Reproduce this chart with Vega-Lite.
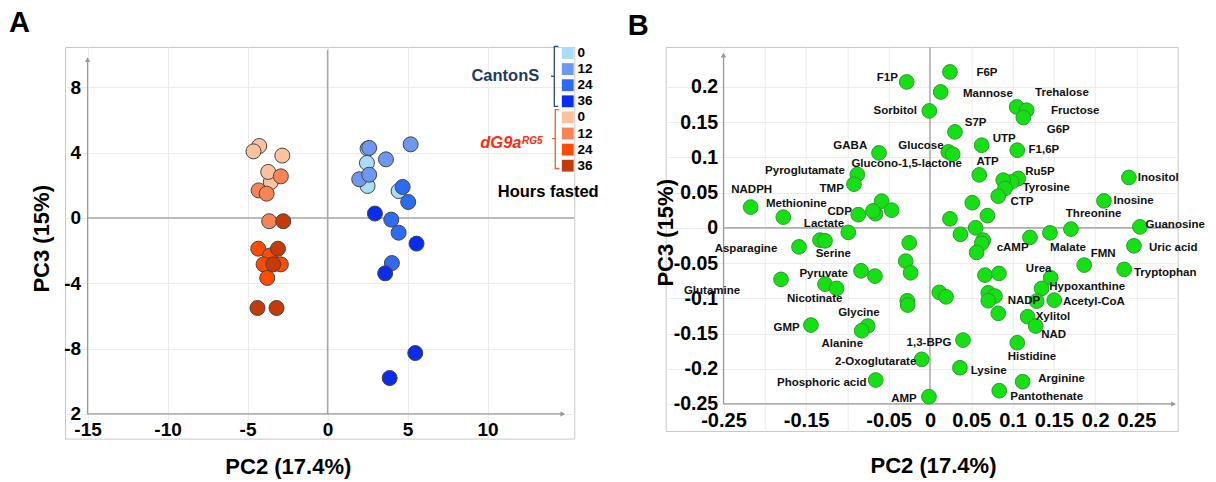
{
  "$schema": "https://vega.github.io/schema/vega-lite/v6.json",
  "background": "white",
  "padding": {"left": 8, "top": 8, "right": 0, "bottom": 0},
  "spacing": 90.7,
  "bounds": "flush",
  "config": {
    "font": "Liberation Sans",
    "view": {"stroke": "#c8c8c8", "strokeWidth": 1},
    "axis": {
      "labelFont": "Liberation Sans", "labelFontWeight": "bold", "labelColor": "#000",
      "titleFont": "Liberation Sans", "titleFontWeight": "bold", "titleColor": "#000", "titleFontSize": 22,
      "gridColor": "#ebebeb", "gridWidth": 1, "labelOverlap": false, "labelFlush": false,
      "domain": false, "ticks": false
    },
    "legend": {"labelFont": "Liberation Sans"}
  },
  "datasets": {
    "pca": [
      {"grp": "dG9a 0", "pc2": -4.27, "pc3": 4.41},
      {"grp": "dG9a 0", "pc2": -4.63, "pc3": 4.08},
      {"grp": "dG9a 0", "pc2": -2.83, "pc3": 3.82},
      {"grp": "dG9a 0", "pc2": -3.55, "pc3": 2.2},
      {"grp": "dG9a 0", "pc2": -3.71, "pc3": 2.82},
      {"grp": "CantonS 0", "pc2": 2.5, "pc3": 4.25},
      {"grp": "CantonS 0", "pc2": 2.46, "pc3": 3.37},
      {"grp": "CantonS 0", "pc2": 2.5, "pc3": 1.96},
      {"grp": "CantonS 0", "pc2": 4.44, "pc3": 1.65},
      {"grp": "dG9a 12", "pc2": -2.92, "pc3": 2.55},
      {"grp": "dG9a 12", "pc2": -4.31, "pc3": 1.69},
      {"grp": "dG9a 12", "pc2": -3.81, "pc3": 1.49},
      {"grp": "dG9a 12", "pc2": -3.65, "pc3": -0.2},
      {"grp": "CantonS 12", "pc2": 2.6, "pc3": 4.29},
      {"grp": "CantonS 12", "pc2": 3.65, "pc3": 3.59},
      {"grp": "CantonS 12", "pc2": 5.19, "pc3": 4.51},
      {"grp": "CantonS 12", "pc2": 1.98, "pc3": 2.37},
      {"grp": "CantonS 12", "pc2": 2.6, "pc3": 2.65},
      {"grp": "dG9a 24", "pc2": -4.33, "pc3": -1.88},
      {"grp": "dG9a 24", "pc2": -3.6, "pc3": -2.3},
      {"grp": "dG9a 24", "pc2": -4.0, "pc3": -2.84},
      {"grp": "dG9a 24", "pc2": -2.92, "pc3": -2.84},
      {"grp": "dG9a 24", "pc2": -3.77, "pc3": -3.67},
      {"grp": "CantonS 24", "pc2": 4.69, "pc3": 1.9},
      {"grp": "CantonS 24", "pc2": 5.04, "pc3": 0.98},
      {"grp": "CantonS 24", "pc2": 3.98, "pc3": -0.1},
      {"grp": "CantonS 24", "pc2": 4.44, "pc3": -0.9},
      {"grp": "CantonS 24", "pc2": 4.02, "pc3": -2.76},
      {"grp": "dG9a 36", "pc2": -2.77, "pc3": -0.2},
      {"grp": "dG9a 36", "pc2": -3.1, "pc3": -1.88},
      {"grp": "dG9a 36", "pc2": -3.4, "pc3": -2.84},
      {"grp": "dG9a 36", "pc2": -4.38, "pc3": -5.51},
      {"grp": "dG9a 36", "pc2": -3.19, "pc3": -5.51},
      {"grp": "CantonS 36", "pc2": 2.96, "pc3": 0.27},
      {"grp": "CantonS 36", "pc2": 5.56, "pc3": -1.57},
      {"grp": "CantonS 36", "pc2": 3.6, "pc3": -3.39},
      {"grp": "CantonS 36", "pc2": 5.48, "pc3": -8.27},
      {"grp": "CantonS 36", "pc2": 3.88, "pc3": -9.8}
    ],
    "brackets": [
      {"strain": "CantonS", "part": "main", "o": 1, "bx": 14.42, "by": 10.51},
      {"strain": "CantonS", "part": "main", "o": 2, "bx": 14.17, "by": 10.51},
      {"strain": "CantonS", "part": "main", "o": 3, "bx": 14.17, "by": 6.84},
      {"strain": "CantonS", "part": "main", "o": 4, "bx": 14.42, "by": 6.84},
      {"strain": "CantonS", "part": "tick", "o": 1, "bx": 13.96, "by": 8.68},
      {"strain": "CantonS", "part": "tick", "o": 2, "bx": 14.17, "by": 8.68},
      {"strain": "dG9a", "part": "main", "o": 1, "bx": 14.48, "by": 6.64},
      {"strain": "dG9a", "part": "main", "o": 2, "bx": 14.23, "by": 6.64},
      {"strain": "dG9a", "part": "main", "o": 3, "bx": 14.23, "by": 3.03},
      {"strain": "dG9a", "part": "main", "o": 4, "bx": 14.48, "by": 3.03},
      {"strain": "dG9a", "part": "tick", "o": 1, "bx": 14.02, "by": 4.86},
      {"strain": "dG9a", "part": "tick", "o": 2, "bx": 14.23, "by": 4.86}
    ],
    "notes": [
      {"note": "CantonS", "nx": 11.11, "ny": 8.68},
      {"note": "dG9a", "nx": 9.54, "ny": 4.27},
      {"note": "RG5", "nx": 12.15, "ny": 4.5},
      {"note": "Hours fasted", "nx": 13.79, "ny": 1.62}
    ],
    "metab": [
      {"x": -0.0282, "y": 0.2071}, {"x": 0.0242, "y": 0.2213}, {"x": 0.013, "y": 0.1929}, {"x": -0.0008, "y": 0.166},
      {"x": 0.0303, "y": 0.1362}, {"x": 0.0626, "y": 0.1173}, {"x": -0.0617, "y": 0.1064}, {"x": 0.0222, "y": 0.1078},
      {"x": 0.0275, "y": 0.1045}, {"x": 0.0597, "y": 0.0752}, {"x": -0.088, "y": 0.0757}, {"x": -0.092, "y": 0.062},
      {"x": -0.2171, "y": 0.0294}, {"x": -0.1776, "y": 0.0152}, {"x": -0.0585, "y": 0.0379}, {"x": -0.0464, "y": 0.0251},
      {"x": -0.066, "y": 0.02}, {"x": -0.069, "y": 0.024}, {"x": -0.0868, "y": 0.0187}, {"x": 0.0512, "y": 0.0357},
      {"x": 0.0242, "y": 0.0128}, {"x": 0.0696, "y": 0.0173}, {"x": 0.105, "y": 0.1716}, {"x": 0.1171, "y": 0.167},
      {"x": 0.113, "y": 0.1566}, {"x": 0.1057, "y": 0.1102}, {"x": 0.1069, "y": 0.0701}, {"x": 0.0989, "y": 0.0652},
      {"x": 0.0887, "y": 0.0677}, {"x": 0.0908, "y": 0.0559}, {"x": 0.0827, "y": 0.045}, {"x": 0.2409, "y": 0.0715},
      {"x": 0.2107, "y": 0.0383}, {"x": 0.1707, "y": -0.0018}, {"x": 0.2542, "y": 0.0014}, {"x": 0.247, "y": -0.0255},
      {"x": 0.2352, "y": -0.059}, {"x": 0.1868, "y": -0.0529}, {"x": 0.1453, "y": -0.0071}, {"x": 0.1211, "y": -0.0136},
      {"x": 0.0553, "y": 0.0}, {"x": 0.0369, "y": -0.0092}, {"x": 0.0645, "y": -0.0174}, {"x": 0.0626, "y": -0.0221},
      {"x": 0.0565, "y": -0.0349}, {"x": 0.1461, "y": -0.0709}, {"x": 0.1352, "y": -0.086}, {"x": 0.1505, "y": -0.1026},
      {"x": 0.1292, "y": -0.104}, {"x": 0.1183, "y": -0.1262}, {"x": 0.128, "y": -0.1394}, {"x": 0.1057, "y": -0.1631},
      {"x": 0.0363, "y": -0.1986}, {"x": 0.1122, "y": -0.2184}, {"x": 0.0839, "y": -0.2312}, {"x": 0.0666, "y": -0.0671},
      {"x": 0.0835, "y": -0.0647}, {"x": 0.0706, "y": -0.0922}, {"x": 0.0787, "y": -0.0969}, {"x": 0.0706, "y": -0.1035},
      {"x": 0.0827, "y": -0.1214}, {"x": 0.04, "y": -0.1593}, {"x": -0.0989, "y": -0.0065}, {"x": -0.1332, "y": -0.0174},
      {"x": -0.1271, "y": -0.0184}, {"x": -0.1586, "y": -0.027}, {"x": -0.0251, "y": -0.0213}, {"x": -0.0294, "y": -0.0472},
      {"x": -0.0234, "y": -0.0638}, {"x": -0.0835, "y": -0.061}, {"x": -0.0666, "y": -0.0685}, {"x": -0.1804, "y": -0.0732},
      {"x": -0.1271, "y": -0.0799}, {"x": -0.113, "y": -0.086}, {"x": 0.0113, "y": -0.0916}, {"x": 0.0194, "y": -0.0979},
      {"x": -0.0275, "y": -0.1035}, {"x": -0.027, "y": -0.1096}, {"x": -0.0754, "y": -0.1394}, {"x": -0.0827, "y": -0.1461},
      {"x": -0.1441, "y": -0.138}, {"x": -0.01, "y": -0.1867}, {"x": -0.0657, "y": -0.216}, {"x": -0.0012, "y": -0.2397}
    ],
    "labels": [
      {"name": "F1P", "x": -0.0517, "y": 0.2128},
      {"name": "F6P", "x": 0.069, "y": 0.2204},
      {"name": "Mannose", "x": 0.0702, "y": 0.1896},
      {"name": "Trehalose", "x": 0.1598, "y": 0.1915},
      {"name": "Fructose", "x": 0.1759, "y": 0.166},
      {"name": "G6P", "x": 0.1553, "y": 0.1386},
      {"name": "Sorbitol", "x": -0.042, "y": 0.1655},
      {"name": "S7P", "x": 0.0553, "y": 0.1489},
      {"name": "UTP", "x": 0.09, "y": 0.1268},
      {"name": "GABA", "x": -0.0965, "y": 0.1159},
      {"name": "Glucose", "x": -0.0109, "y": 0.1159},
      {"name": "Glucono-1,5-lactone", "x": -0.0282, "y": 0.0913},
      {"name": "ATP", "x": 0.0699, "y": 0.0936},
      {"name": "F1,6P", "x": 0.138, "y": 0.1102},
      {"name": "Pyroglutamate", "x": -0.1513, "y": 0.0809},
      {"name": "TMP", "x": -0.119, "y": 0.0545},
      {"name": "NADPH", "x": -0.2159, "y": 0.0535},
      {"name": "Methionine", "x": -0.1619, "y": 0.0336},
      {"name": "CDP", "x": -0.1093, "y": 0.0218},
      {"name": "Ru5P", "x": 0.1332, "y": 0.079},
      {"name": "Tyrosine", "x": 0.1408, "y": 0.0567},
      {"name": "CTP", "x": 0.1114, "y": 0.0369},
      {"name": "Inositol", "x": 0.2764, "y": 0.0701},
      {"name": "Inosine", "x": 0.2466, "y": 0.0379},
      {"name": "Threonine", "x": 0.1982, "y": 0.0194},
      {"name": "Guanosine", "x": 0.297, "y": 0.0038},
      {"name": "Uric acid", "x": 0.2946, "y": -0.0292},
      {"name": "Tryptophan", "x": 0.2849, "y": -0.0638},
      {"name": "FMN", "x": 0.2098, "y": -0.0377},
      {"name": "Malate", "x": 0.1671, "y": -0.0284},
      {"name": "cAMP", "x": 0.1001, "y": -0.0284},
      {"name": "Urea", "x": 0.1316, "y": -0.0586},
      {"name": "Hypoxanthine", "x": 0.1904, "y": -0.0845},
      {"name": "NADP", "x": 0.1138, "y": -0.1035},
      {"name": "Acetyl-CoA", "x": 0.1985, "y": -0.105},
      {"name": "Xylitol", "x": 0.1489, "y": -0.1262},
      {"name": "NAD", "x": 0.1498, "y": -0.1522},
      {"name": "Histidine", "x": 0.1235, "y": -0.183},
      {"name": "Lysine", "x": 0.0711, "y": -0.2028},
      {"name": "Arginine", "x": 0.1594, "y": -0.215},
      {"name": "Pantothenate", "x": 0.1413, "y": -0.2406},
      {"name": "Lactate", "x": -0.1283, "y": 0.0048},
      {"name": "Asparagine", "x": -0.2228, "y": -0.0306},
      {"name": "Serine", "x": -0.1171, "y": -0.0377},
      {"name": "Pyruvate", "x": -0.1287, "y": -0.0657},
      {"name": "Glutamine", "x": -0.2639, "y": -0.0894},
      {"name": "Nicotinate", "x": -0.1396, "y": -0.1007},
      {"name": "Glycine", "x": -0.086, "y": -0.1206},
      {"name": "GMP", "x": -0.1735, "y": -0.1418},
      {"name": "Alanine", "x": -0.1062, "y": -0.165},
      {"name": "1,3-BPG", "x": -0.0012, "y": -0.1631},
      {"name": "2-Oxoglutarate", "x": -0.0657, "y": -0.1905},
      {"name": "Phosphoric acid", "x": -0.1311, "y": -0.2207},
      {"name": "AMP", "x": -0.0315, "y": -0.2434}
    ]
  },
  "hconcat": [
    {
      "width": 509.3,
      "height": 391.6,
      "title": {"text": "A", "anchor": "start", "frame": "group", "dx": -56, "offset": -17.6, "baseline": "alphabetic", "fontSize": 29, "fontWeight": "bold", "color": "#000", "font": "Liberation Sans"},
      "layer": [
        {
          "data": {"values": [{}]},
          "mark": {"type": "rule", "color": "#a8a8a8", "strokeWidth": 1.5},
          "encoding": {
            "x": {"datum": 0, "scale": {"domain": [-16.41, 15.42], "nice": false, "zero": false}},
            "y": {"datum": -12, "scale": {"domain": [-13.51, 10.47], "nice": false, "zero": false}},
            "y2": {"datum": 10.3}
          }
        },
        {
          "data": {"values": [{}]},
          "mark": {"type": "rule", "color": "#a8a8a8", "strokeWidth": 1.5},
          "encoding": {
            "y": {"datum": 0, "scale": {"domain": [-13.51, 10.47], "nice": false, "zero": false}},
            "x": {"datum": -15, "scale": {"domain": [-16.41, 15.42], "nice": false, "zero": false}},
            "x2": {"datum": 15.42}
          }
        },
        {
          "data": {"values": [{}]},
          "mark": {"type": "rule", "color": "#9a9a9a", "strokeWidth": 1.2},
          "encoding": {
            "x": {"datum": -15, "scale": {"domain": [-16.41, 15.42], "nice": false, "zero": false}},
            "y": {"datum": -12, "scale": {"domain": [-13.51, 10.47], "nice": false, "zero": false}},
            "y2": {"datum": 9.6}
          }
        },
        {
          "data": {"values": [{}]},
          "mark": {"type": "rule", "color": "#9a9a9a", "strokeWidth": 1.2},
          "encoding": {
            "y": {"datum": -12, "scale": {"domain": [-13.51, 10.47], "nice": false, "zero": false}},
            "x": {"datum": -15, "scale": {"domain": [-16.41, 15.42], "nice": false, "zero": false}},
            "x2": {"datum": 14.6}
          }
        },
        {
          "data": {"values": [{}]},
          "mark": {"type": "point", "shape": "triangle-up", "filled": true, "size": 30, "color": "#9a9a9a", "opacity": 1},
          "encoding": {
            "x": {"datum": -15, "scale": {"domain": [-16.41, 15.42], "nice": false, "zero": false}},
            "y": {"datum": 9.7, "scale": {"domain": [-13.51, 10.47], "nice": false, "zero": false}}
          }
        },
        {
          "data": {"values": [{}]},
          "mark": {"type": "point", "shape": "triangle-right", "filled": true, "size": 30, "color": "#9a9a9a", "opacity": 1},
          "encoding": {
            "x": {"datum": 14.7, "scale": {"domain": [-16.41, 15.42], "nice": false, "zero": false}},
            "y": {"datum": -12, "scale": {"domain": [-13.51, 10.47], "nice": false, "zero": false}}
          }
        },
        {
          "data": {"name": "brackets"},
          "transform": [{"filter": "datum.strain == 'CantonS'"}],
          "mark": {"type": "line", "color": "#2a4a78", "strokeWidth": 1.3},
          "encoding": {
            "x": {"field": "bx", "type": "quantitative", "scale": {"domain": [-16.41, 15.42], "nice": false, "zero": false}},
            "y": {"field": "by", "type": "quantitative", "scale": {"domain": [-13.51, 10.47], "nice": false, "zero": false}},
            "detail": {"field": "part"},
            "order": {"field": "o"}
          }
        },
        {
          "data": {"name": "brackets"},
          "transform": [{"filter": "datum.strain == 'dG9a'"}],
          "mark": {"type": "line", "color": "#ff5a1f", "strokeWidth": 1.3},
          "encoding": {
            "x": {"field": "bx", "type": "quantitative", "scale": {"domain": [-16.41, 15.42], "nice": false, "zero": false}},
            "y": {"field": "by", "type": "quantitative", "scale": {"domain": [-13.51, 10.47], "nice": false, "zero": false}},
            "detail": {"field": "part"},
            "order": {"field": "o"}
          }
        },
        {
          "data": {"name": "pca"},
          "mark": {"type": "point", "filled": true, "size": 225, "stroke": "#454545", "strokeWidth": 1, "opacity": 1},
          "encoding": {
            "x": {
              "field": "pc2", "type": "quantitative",
              "scale": {"domain": [-16.41, 15.42], "nice": false, "zero": false},
              "axis": {"title": "PC2 (17.4%)", "values": [-15, -10, -5, 0, 5, 10], "offset": -25, "grid": true,
                       "labelFontSize": 19, "labelPadding": 7, "labelExpr": "'' + datum.value",
                       "titleX": 222.8, "titleY": 60, "titleAlign": "center", "titleBaseline": "alphabetic", "titleAnchor": null}
            },
            "y": {
              "field": "pc3", "type": "quantitative",
              "scale": {"domain": [-13.51, 10.47], "nice": false, "zero": false},
              "axis": {"title": "PC3 (15%)", "values": [-12, -10, -8, -6, -4, -2, 0, 2, 4, 6, 8], "offset": -22.6, "grid": true,
                       "labelFontSize": 19, "labelPadding": 7,
                       "labelExpr": "datum.value == -10 ? '0' : datum.value == -12 ? '2' : '' + datum.value",
                       "titleX": -39.3, "titleY": 191.3, "titleAngle": -90, "titleAlign": "center", "titleBaseline": "alphabetic", "titleAnchor": null}
            },
            "color": {
              "field": "grp", "type": "nominal",
              "scale": {
                "domain": ["CantonS 0", "CantonS 12", "CantonS 24", "CantonS 36", "dG9a 0", "dG9a 12", "dG9a 24", "dG9a 36"],
                "range": ["#aadcf7", "#6e97f1", "#2e6bf5", "#0a2cee", "#fcc2a0", "#f88357", "#ff4c00", "#c23b08"]
              },
              "legend": {
                "orient": "none", "legendX": 496, "legendY": -0.75, "title": null, "padding": 0,
                "symbolType": "square", "symbolSize": 140, "symbolStrokeWidth": 0, "symbolOpacity": 1,
                "labelFontSize": 13.5, "labelFontWeight": "bold", "labelColor": "#000", "labelOffset": 3, "rowPadding": 1.1,
                "labelExpr": "split(datum.label, ' ')[1]"
              }
            }
          }
        },
        {
          "data": {"name": "notes"},
          "transform": [{"filter": "datum.note == 'CantonS'"}],
          "mark": {"type": "text", "fontSize": 16.5, "fontWeight": "bold", "color": "#1f3a68", "align": "center", "baseline": "middle"},
          "encoding": {
            "x": {"field": "nx", "type": "quantitative", "scale": {"domain": [-16.41, 15.42], "nice": false, "zero": false}},
            "y": {"field": "ny", "type": "quantitative", "scale": {"domain": [-13.51, 10.47], "nice": false, "zero": false}},
            "text": {"field": "note"}
          }
        },
        {
          "data": {"name": "notes"},
          "transform": [{"filter": "datum.note == 'dG9a'"}],
          "mark": {"type": "text", "fontSize": 16.5, "fontWeight": "bold", "fontStyle": "italic", "color": "#ff2a12", "align": "left", "baseline": "alphabetic"},
          "encoding": {
            "x": {"field": "nx", "type": "quantitative", "scale": {"domain": [-16.41, 15.42], "nice": false, "zero": false}},
            "y": {"field": "ny", "type": "quantitative", "scale": {"domain": [-13.51, 10.47], "nice": false, "zero": false}},
            "text": {"field": "note"}
          }
        },
        {
          "data": {"name": "notes"},
          "transform": [{"filter": "datum.note == 'RG5'"}],
          "mark": {"type": "text", "fontSize": 10, "fontWeight": "bold", "fontStyle": "italic", "color": "#ff2a12", "align": "left", "baseline": "alphabetic"},
          "encoding": {
            "x": {"field": "nx", "type": "quantitative", "scale": {"domain": [-16.41, 15.42], "nice": false, "zero": false}},
            "y": {"field": "ny", "type": "quantitative", "scale": {"domain": [-13.51, 10.47], "nice": false, "zero": false}},
            "text": {"field": "note"}
          }
        },
        {
          "data": {"name": "notes"},
          "transform": [{"filter": "datum.note == 'Hours fasted'"}],
          "mark": {"type": "text", "fontSize": 16.5, "fontWeight": "bold", "color": "#000", "align": "center", "baseline": "middle"},
          "encoding": {
            "x": {"field": "nx", "type": "quantitative", "scale": {"domain": [-16.41, 15.42], "nice": false, "zero": false}},
            "y": {"field": "ny", "type": "quantitative", "scale": {"domain": [-13.51, 10.47], "nice": false, "zero": false}},
            "text": {"field": "note"}
          }
        }
      ]
    },
    {
      "width": 512,
      "height": 384,
      "title": {"text": "B", "anchor": "start", "frame": "group", "dx": -38, "offset": -17.6, "baseline": "alphabetic", "fontSize": 29, "fontWeight": "bold", "color": "#000", "font": "Liberation Sans"},
      "layer": [
        {
          "data": {"values": [{}]},
          "mark": {"type": "rule", "color": "#b0b0b0", "strokeWidth": 1.6},
          "encoding": {
            "x": {"datum": 0, "scale": {"domain": [-0.32, 0.3], "nice": false, "zero": false}},
            "y": {"datum": -0.25, "scale": {"domain": [-0.2884, 0.2567], "nice": false, "zero": false}},
            "y2": {"datum": 0.2567}
          }
        },
        {
          "data": {"values": [{}]},
          "mark": {"type": "rule", "color": "#b0b0b0", "strokeWidth": 1.6},
          "encoding": {
            "y": {"datum": 0, "scale": {"domain": [-0.2884, 0.2567], "nice": false, "zero": false}},
            "x": {"datum": -0.25, "scale": {"domain": [-0.32, 0.3], "nice": false, "zero": false}},
            "x2": {"datum": 0.3}
          }
        },
        {
          "data": {"values": [{}]},
          "mark": {"type": "rule", "color": "#9a9a9a", "strokeWidth": 1.2},
          "encoding": {
            "x": {"datum": -0.25, "scale": {"domain": [-0.32, 0.3], "nice": false, "zero": false}},
            "y": {"datum": -0.25, "scale": {"domain": [-0.2884, 0.2567], "nice": false, "zero": false}},
            "y2": {"datum": 0.243}
          }
        },
        {
          "data": {"values": [{}]},
          "mark": {"type": "rule", "color": "#9a9a9a", "strokeWidth": 1.2},
          "encoding": {
            "y": {"datum": -0.25, "scale": {"domain": [-0.2884, 0.2567], "nice": false, "zero": false}},
            "x": {"datum": -0.25, "scale": {"domain": [-0.32, 0.3], "nice": false, "zero": false}},
            "x2": {"datum": 0.293}
          }
        },
        {
          "data": {"values": [{}]},
          "mark": {"type": "point", "shape": "triangle-up", "filled": true, "size": 30, "color": "#9a9a9a", "opacity": 1},
          "encoding": {
            "x": {"datum": -0.25, "scale": {"domain": [-0.32, 0.3], "nice": false, "zero": false}},
            "y": {"datum": 0.245, "scale": {"domain": [-0.2884, 0.2567], "nice": false, "zero": false}}
          }
        },
        {
          "data": {"values": [{}]},
          "mark": {"type": "point", "shape": "triangle-right", "filled": true, "size": 30, "color": "#9a9a9a", "opacity": 1},
          "encoding": {
            "x": {"datum": 0.295, "scale": {"domain": [-0.32, 0.3], "nice": false, "zero": false}},
            "y": {"datum": -0.25, "scale": {"domain": [-0.2884, 0.2567], "nice": false, "zero": false}}
          }
        },
        {
          "data": {"name": "metab"},
          "mark": {"type": "point", "filled": true, "size": 216, "fill": "#14e014", "stroke": "#2f9a2f", "strokeWidth": 1, "opacity": 1},
          "encoding": {
            "x": {
              "field": "x", "type": "quantitative",
              "scale": {"domain": [-0.32, 0.3], "nice": false, "zero": false},
              "axis": {"title": "PC2 (17.4%)", "values": [-0.25, -0.2, -0.15, -0.1, -0.05, 0, 0.05, 0.1, 0.15, 0.2, 0.25], "offset": -27.7, "grid": true,
                       "labelFontSize": 20, "labelPadding": 7,
                       "labelExpr": "datum.value == -0.2 || datum.value == -0.1 ? '' : '' + datum.value",
                       "titleX": 267.3, "titleY": 68.7, "titleAlign": "center", "titleBaseline": "alphabetic", "titleAnchor": null}
            },
            "y": {
              "field": "y", "type": "quantitative",
              "scale": {"domain": [-0.2884, 0.2567], "nice": false, "zero": false},
              "axis": {"title": "PC3 (15%)", "values": [-0.25, -0.2, -0.15, -0.1, -0.05, 0, 0.05, 0.1, 0.15, 0.2], "offset": -57, "grid": true,
                       "labelFontSize": 19.5, "labelPadding": 5, "labelExpr": "'' + datum.value",
                       "titleX": -50, "titleY": 185.3, "titleAngle": -90, "titleAlign": "center", "titleBaseline": "alphabetic", "titleAnchor": null}
            }
          }
        },
        {
          "data": {"name": "labels"},
          "mark": {"type": "text", "fontSize": 11.5, "fontWeight": "bold", "color": "#111", "align": "center", "baseline": "middle"},
          "encoding": {
            "x": {"field": "x", "type": "quantitative", "scale": {"domain": [-0.32, 0.3], "nice": false, "zero": false}},
            "y": {"field": "y", "type": "quantitative", "scale": {"domain": [-0.2884, 0.2567], "nice": false, "zero": false}},
            "text": {"field": "name"}
          }
        }
      ]
    }
  ]
}
